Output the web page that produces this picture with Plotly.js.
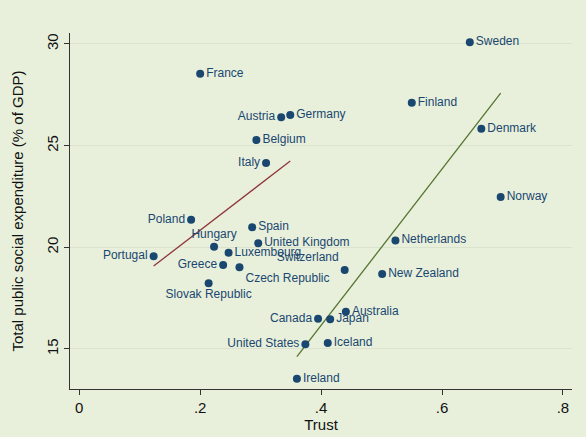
<!DOCTYPE html>
<html>
<head>
<meta charset="utf-8">
<script src="https://cdn.plot.ly/plotly-3.0.1.min.js"></script>
<style>
  body { margin: 0; background: #e8f0dc; }
  #chart { width: 586px; height: 437px; }
</style>
</head>
<body>
<div id="chart"></div>
<script>
// countries, trust and social spending
var countries = ['Sweden', 'France', 'Finland', 'Austria', 'Germany', 'Denmark', 'Belgium',
  'Italy', 'Norway', 'Poland', 'Spain', 'Netherlands', 'United Kingdom', 'Hungary',
  'Luxembourg', 'Portugal', 'Greece', 'Czech Republic', 'Switzerland', 'New Zealand',
  'Slovak Republic', 'Australia', 'Canada', 'Japan', 'Iceland', 'United States', 'Ireland'];
var trust = [0.646, 0.200, 0.550, 0.334, 0.349, 0.665, 0.293,
  0.309, 0.697, 0.185, 0.286, 0.523, 0.296, 0.223,
  0.247, 0.123, 0.238, 0.265, 0.439, 0.501,
  0.214, 0.441, 0.395, 0.415, 0.411, 0.374, 0.360];
var spending = [30.08, 28.54, 27.11, 26.39, 26.51, 25.83, 25.28,
  24.15, 22.47, 21.36, 20.99, 20.34, 20.20, 20.03,
  19.73, 19.56, 19.13, 19.02, 18.88, 18.69,
  18.23, 16.83, 16.49, 16.46, 15.29, 15.23, 13.54];
var labelPos = ['middle right', 'middle right', 'middle right', 'middle left', 'middle right',
  'middle right', 'middle right', 'middle left', 'middle right', 'middle left', 'middle right',
  'middle right', 'middle right', 'top center', 'middle right', 'middle left', 'middle left',
  'bottom right', 'top left', 'middle right', 'bottom center', 'middle right', 'middle left',
  'middle right', 'middle right', 'middle left', 'middle right'];

// the two fitted lines
var fitLowX = [0.123, 0.349];
var fitLowY = [19.08, 24.24];
var fitHighX = [0.360, 0.697];
var fitHighY = [14.62, 27.58];

var xTicks = [0, 0.2, 0.4, 0.6, 0.8];
var xTickText = ['0', '.2', '.4', '.6', '.8'];
var yTicks = [15, 20, 25, 30];

var navy = '#1a476f';
var bg = '#e8f0dc';

var data = [
  { type: 'scatter', mode: 'lines', x: fitLowX, y: fitLowY,
    line: { color: '#90353b', width: 1.3 }, hoverinfo: 'skip' },
  { type: 'scatter', mode: 'lines', x: fitHighX, y: fitHighY,
    line: { color: '#55752f', width: 1.3 }, hoverinfo: 'skip' },
  { type: 'scatter', mode: 'markers+text', x: trust, y: spending,
    text: countries, textposition: labelPos,
    textfont: { family: 'Liberation Sans, Arial, sans-serif', size: 12, color: navy },
    marker: { color: navy, size: 8 } }
];

var layout = {
  width: 586,
  height: 437,
  showlegend: false,
  paper_bgcolor: bg,
  plot_bgcolor: bg,
  margin: { l: 70, r: 14, t: 33, b: 48 },
  font: { family: 'Liberation Sans, Arial, sans-serif', size: 15, color: '#111' },
  xaxis: {
    range: [-0.0153, 0.815],
    tickvals: xTicks, ticktext: xTickText,
    ticks: 'outside', ticklen: 5, tickcolor: '#333',
    showline: true, linecolor: '#333', linewidth: 1,
    showgrid: false, zeroline: false,
    title: { text: 'Trust', standoff: 2, font: { size: 15 } }
  },
  yaxis: {
    range: [13.03, 30.54],
    tickvals: yTicks, tickangle: -90,
    ticks: 'outside', ticklen: 5, tickcolor: '#333',
    showline: true, linecolor: '#333', linewidth: 1,
    showgrid: true, gridcolor: '#dbe3cf', gridwidth: 1,
    zeroline: false,
    title: { text: 'Total public social expenditure (% of GDP)', standoff: 16, font: { size: 15 } }
  }
};

Plotly.newPlot('chart', data, layout, { displayModeBar: false, staticPlot: true });
</script>
</body>
</html>
